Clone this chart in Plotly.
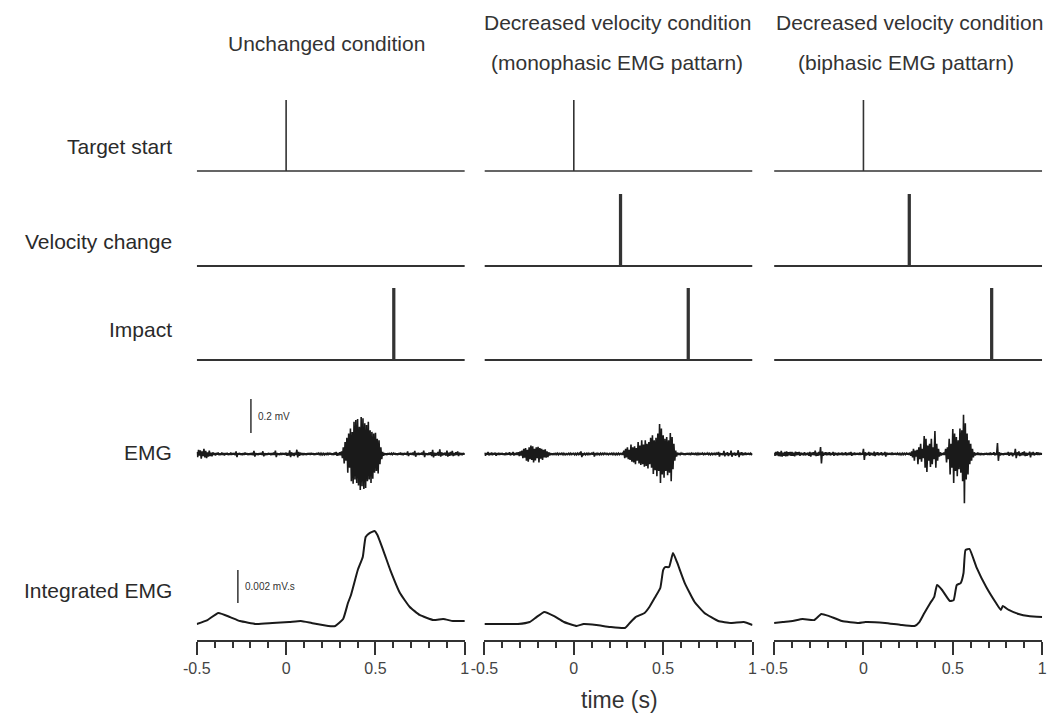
import numpy as np
import plotly.graph_objects as go

# ---------------- data ----------------
title_lines = [["Unchanged condition"],
               ["Decreased velocity condition", "(monophasic EMG pattarn)"],
               ["Decreased velocity condition", "(biphasic EMG pattarn)"]]
row_labels = ["Target start", "Velocity change", "Impact", "EMG", "Integrated EMG"]

# event times (s) per column; None = no event
target_start = [0.0, 0.0, 0.0]
velocity_change = [None, 0.258, 0.253]
impact = [0.599, 0.637, 0.714]
pulse_width = [0.0, 0.007, 0.007]   # per event row (s)

# raw EMG (µV), sampled every 5 ms from -0.5 s to 1.0 s
emg_unchanged = [
    12, -18, 25, -10, 22, -28, 15, -12, 30, -20, 18, -25, 10, -15, 20, -12, 8, -14, 10, -6,
    5, -8, 6, -4, 9, -7, 4, -6, 8, -5, 6, -9, 5, -4, 7, -6, 4, -5, 8, -6,
    5, -4, 6, -7, 15, -18, 5, -4, 6, -5, 4, -7, 6, -5, 8, -4, 5, -6, 4, -5,
    6, -5, 7, -8, 18, -15, 6, -5, 4, -6, 5, -4, 7, -5, 16, -14, 5, -6, 4, -5,
    6, -4, 5, -7, 6, -5, 8, -6, 20, -18, 6, -5, 4, -6, 7, -5, 6, -4, 5, -6,
    8, -10, 6, -9, 22, -18, 10, -8, 6, -12, 8, -6, 25, -20, 12, -10, 8, -6, 5, -7,
    6, -5, 4, -6, 5, -4, 6, -5, 7, -4, 5, -6, 4, -5, 6, -4, 5, -3, 4, -5,
    4, -5, 3, -4, 5, -6, 4, -3, 5, -4, 6, -5, 4, -6, 8, -5, 12, -10, 6, -8,
    10, -8, 15, -25, 40, -55, 70, -40, 95, -110, 120, -80, 150, -160, 130, -175, 190, -150, 200, -170,
    205, -185, 160, -212, 218, -190, 210, -205, 180, -200, 170, -160, 190, -150, 140, -170, 130, -145, 120, -110,
    125, -100, 90, -115, 80, -60, 40, -30, 12, -10, 6, -5, 4, -6, 5, -4, 6, -5, 4, -3,
    5, -4, 6, -5, 4, -6, 5, -4, 8, -6, 5, -7, 6, -4, 5, -6, 15, -12, 5, -4,
    6, -5, 8, -7, 18, -16, 6, -5, 7, -6, 5, -4, 8, -6, 20, -18, 6, -5, 4, -6,
    8, -6, 10, -12, 25, -20, 8, -10, 6, -8, 12, -10, 28, -15, 10, -8, 6, -5, 8, -10,
    20, -15, 8, -10, 12, -8, 18, -12, 6, -8, 10, -6, 15, -12, 8, -6, 5, -7, 6, -4,
    5]
emg_mono = [
    8, -10, 6, -5, 12, -8, 5, -6, 9, -7, 5, -4, 8, -10, 6, -5, 7, -6, 5, -4,
    6, -5, 4, -7, 8, -6, 5, -4, 10, -8, 6, -5, 12, -9, 6, -5, 8, -6, 10, -12,
    15, -10, 20, -25, 30, -22, 35, -40, 25, -45, 40, -30, 50, -35, 45, -50, 30, -38, 40, -25,
    42, -50, 35, -28, 30, -35, 25, -20, 28, -22, 15, -18, 10, -8, 6, -5, 4, -6, 5, -3,
    4, -3, 5, -4, 3, -2, 4, -3, 5, -4, 3, -4, 2, -3, 4, -3, 5, -4, 3, -2,
    4, -5, 3, -4, 5, -3, 4, -5, 15, -18, 5, -4, 3, -5, 4, -3, 5, -4, 3, -2,
    4, -3, 12, -15, 4, -3, 5, -4, 3, -4, 5, -3, 4, -3, 5, -2, 4, -3, 3, -4,
    3, -2, 4, -3, 5, -4, 3, -5, 4, -3, 5, -4, 3, -2, 4, -5, 20, -25, 30, -20,
    40, -30, 25, -35, 55, -45, 40, -50, 45, -60, 35, -40, 70, -55, 50, -65, 80, -60, 55, -75,
    80, -70, 60, -85, 70, -60, 95, -80, 110, -118, 80, -95, 95, -130, 120, -100, 176, -170, 150, -120,
    110, -140, 90, -100, 100, -125, 80, -110, 124, -160, 100, -90, 60, -40, 20, -15, 8, -6, 5, -4,
    5, -4, 6, -5, 4, -6, 5, -4, 6, -5, 4, -3, 5, -4, 6, -5, 4, -3, 5, -4,
    4, -5, 6, -4, 5, -3, 4, -5, 6, -4, 5, -4, 3, -5, 4, -3, 6, -5, 4, -3,
    5, -4, 12, -15, 6, -5, 4, -6, 18, -14, 6, -5, 10, -12, 5, -6, 20, -16, 6, -5,
    8, -10, 6, -5, 22, -18, 8, -6, 10, -8, 6, -5, 8, -6, 5, -4, 6, -5, 4, -3,
    3]
emg_bi = [
    8, -10, 12, -8, 15, -12, 10, -14, 18, -15, 8, -10, 12, -14, 16, -12, 10, -8, 12, -10,
    12, -10, 8, -14, 14, -8, 10, -6, 12, -10, 8, -6, 5, -8, 10, -8, 6, -5, 8, -10,
    12, -15, 8, -6, 10, -8, 20, -12, 8, -10, 12, -8, 41, -55, 15, -10, 8, -6, 10, -8,
    8, -6, 10, -8, 6, -5, 12, -10, 8, -6, 5, -9, 8, -6, 6, -5, 8, -7, 5, -6,
    10, -8, 6, -5, 8, -6, 12, -10, 6, -5, 8, -6, 5, -4, 6, -5, 8, -6, 5, -4,
    30, -35, 10, -8, 6, -5, 12, -10, 8, -6, 5, -9, 14, -12, 8, -6, 10, -8, 6, -5,
    10, -8, 6, -5, 12, -15, 8, -6, 5, -4, 6, -5, 8, -6, 5, -4, 6, -5, 4, -3,
    4, -5, 3, -4, 5, -3, 4, -3, 5, -4, 6, -5, 8, -10, 15, -20, 30, -40, 20, -15,
    25, -60, 40, -30, 60, -45, 30, -25, 106, -80, 90, -106, 50, -40, 60, -76, 90, -60, 40, -30,
    135, -80, 60, -40, 30, -15, 10, -8, 6, -5, 8, -6, 30, -50, 40, -30, 90, -120, 60, -80,
    147, -170, 120, -100, 100, -130, 80, -90, 150, -110, 140, -160, 230, -290, 180, -150, 120, -120, 80, -60,
    60, -40, 30, -20, 10, -8, 6, -5, 8, -6, 5, -7, 6, -5, 4, -6, 5, -4, 6, -5,
    6, -5, 8, -6, 5, -4, 10, -8, 6, -5, 65, -40, 10, -8, 6, -5, 4, -6, 5, -4,
    6, -5, 12, -10, 8, -6, 8, -14, 6, -5, 30, -25, 10, -8, 15, -12, 6, -8, 10, -8,
    15, -12, 8, -10, 6, -5, 14, -20, 8, -6, 12, -8, 6, -5, 10, -6, 8, -5, 6, -4,
    5]
emg_series = [emg_unchanged, emg_mono, emg_bi]

# integrated EMG (x 0.001 mV.s)
iemg1_t = [-0.5, -0.44, -0.379, -0.313, -0.258, -0.165, -0.077, 0.017, 0.082, 0.143,
           0.236, 0.275, 0.319, 0.346, 0.363, 0.401, 0.429, 0.445, 0.467, 0.495,
           0.511, 0.549, 0.583, 0.637, 0.692, 0.747, 0.824, 0.879, 0.934, 1.0]
iemg1_v = [0.97, 1.21, 1.64, 1.39, 1.15, 0.97, 1.03, 1.09, 1.15, 1.03,
           0.85, 0.85, 1.27, 2.24, 2.73, 4.24, 5.03, 6.24, 6.48, 6.61,
           6.36, 5.27, 4.24, 2.85, 2.0, 1.52, 1.21, 1.27, 1.15, 1.15]
iemg2_t = [-0.5, -0.401, -0.313, -0.247, -0.209, -0.165, -0.110, -0.055, 0.016, 0.055,
           0.126, 0.203, 0.286, 0.313, 0.346, 0.396, 0.423, 0.456, 0.484, 0.5,
           0.511, 0.533, 0.555, 0.577, 0.621, 0.676, 0.731, 0.808, 0.879, 0.951, 1.0]
iemg2_v = [0.97, 0.97, 0.97, 1.09, 1.39, 1.70, 1.45, 1.09, 0.85, 0.97,
           0.91, 0.79, 0.73, 1.03, 1.39, 1.64, 2.0, 2.61, 3.15, 4.24,
           4.42, 4.42, 5.27, 4.73, 3.45, 2.30, 1.64, 1.15, 1.03, 1.09, 0.91]
iemg3_t = [-0.5, -0.451, -0.396, -0.341, -0.275, -0.236, -0.192, -0.121, -0.027, 0.011,
           0.121, 0.209, 0.286, 0.313, 0.341, 0.374, 0.396, 0.412, 0.440, 0.484,
           0.505, 0.522, 0.544, 0.560, 0.571, 0.593, 0.632, 0.687, 0.742, 0.769,
           0.780, 0.813, 0.868, 0.923, 1.0]
iemg3_v = [1.03, 1.09, 1.15, 1.27, 1.21, 1.58, 1.45, 1.15, 1.03, 1.09,
           1.03, 0.91, 0.85, 1.09, 1.64, 2.24, 2.61, 3.33, 3.03, 2.36,
           2.42, 3.33, 3.45, 4.06, 5.45, 5.52, 4.42, 3.21, 2.24, 1.82,
           2.06, 1.82, 1.58, 1.45, 1.39]
iemg_series = [(iemg1_t, iemg1_v), (iemg2_t, iemg2_v), (iemg3_t, iemg3_v)]

tick_vals = [-0.5, 0, 0.5, 1]
tick_text = ["-0.5", "0", "0.5", "1"]
emg_scale_uv = 200        # 0.2 mV
iemg_scale = 2            # 0.002 mV.s

# ---------------- layout helpers ----------------
OFF = 8                     # default page body margin
W, H = 1063 - 2 * OFF, 722 - 2 * OFF
FONT = "Liberation Sans, Arial, sans-serif"
col_px = [(186, 459), (479, 752), (774, 1047)]
pulse_base = [171, 266, 360]


def px_x(p):
    return (p - OFF) / W


def px_y(p):
    return 1 - (p - OFF) / H


def xdom(c):
    return [px_x(col_px[c][0]), px_x(col_px[c][1])]


def ydom(top, bot):
    return [px_y(bot), px_y(top)]


fig = go.Figure()
layout = dict(width=W, height=H, margin=dict(l=0, r=0, t=0, b=0),
              paper_bgcolor="white", plot_bgcolor="white", showlegend=False)


def ax_id(r, c):
    return r * 3 + c + 1


def ref(k):
    return ("x" if k == 1 else f"x{k}"), ("y" if k == 1 else f"y{k}")


events = [target_start, velocity_change, impact]
emg_time = np.round(np.arange(301) * 0.005 - 0.5, 4)

for c in range(3):
    # pulse rows
    for r in range(3):
        k = ax_id(r, c)
        xr, yr = ref(k)
        base = pulse_base[r]
        layout[f"xaxis{k}"] = dict(domain=xdom(c), range=[-0.5, 1.0], visible=False, anchor=yr)
        layout[f"yaxis{k}"] = dict(domain=ydom(base - 80, base + 8),
                                   range=[-8 / 71, 80 / 71], visible=False, anchor=xr)
        t = events[r][c]
        if t is None:
            xs, ys = [-0.5, 1.0], [0, 0]
        else:
            w = pulse_width[r]
            xs = [-0.5, t, t, t + w, t + w, 1.0]
            ys = [0, 0, 1, 1, 0, 0]
        fig.add_trace(go.Scatter(x=xs, y=ys, mode="lines", xaxis=xr, yaxis=yr,
                                 line=dict(color="#333333", width=2 if r else 1.6)))
    # EMG row
    k = ax_id(3, c)
    xr, yr = ref(k)
    layout[f"xaxis{k}"] = dict(domain=xdom(c), range=[-0.5, 1.0], visible=False, anchor=yr)
    layout[f"yaxis{k}"] = dict(domain=ydom(396, 512), range=[-341, 341], visible=False, anchor=xr)
    fig.add_trace(go.Scatter(x=emg_time, y=emg_series[c], mode="lines", xaxis=xr, yaxis=yr,
                             line=dict(color="#1a1a1a", width=1.6)))
    if c == 0:
        y0 = (454 - 433) / 0.17
        fig.add_trace(go.Scatter(x=[-0.197, -0.197], y=[y0, y0 + emg_scale_uv], mode="lines",
                                 xaxis=xr, yaxis=yr, line=dict(color="#333333", width=1.5)))
    # integrated EMG row
    k = ax_id(4, c)
    xr, yr = ref(k)
    layout[f"xaxis{k}"] = dict(
        domain=xdom(c), range=[-0.5, 1.0], anchor=yr,
        showline=True, linecolor="#333333", linewidth=2, mirror=False,
        ticks="outside", ticklen=13, tickwidth=2, tickcolor="#333333",
        tickmode="array", tickvals=tick_vals, ticktext=tick_text,
        tickfont=dict(family=FONT, size=16, color="#444444"),
        minor=dict(tickmode="linear", tick0=-0.5, dtick=0.1, ticks="outside",
                   ticklen=6, tickwidth=2, tickcolor="#333333", showgrid=False),
        showgrid=False, zeroline=False, fixedrange=True)
    layout[f"yaxis{k}"] = dict(domain=ydom(515, 640), range=[0, 125 / 16.5], visible=False, anchor=xr)
    tt, vv = iemg_series[c]
    fig.add_trace(go.Scatter(x=tt, y=vv, mode="lines", xaxis=xr, yaxis=yr,
                             line=dict(color="#1a1a1a", width=2, shape="spline", smoothing=0.4)))
    if c == 0:
        y0 = (640 - 603) / 16.5
        fig.add_trace(go.Scatter(x=[-0.27, -0.27], y=[y0, y0 + iemg_scale], mode="lines",
                                 xaxis=xr, yaxis=yr, line=dict(color="#333333", width=1.5)))

ann = []
# column titles
title_pos = [[(318, 43)], [(615, 23), (614, 62)], [(912, 23), (908, 62)]]
for c in range(3):
    for line, (tx, ty) in zip(title_lines[c], title_pos[c]):
        ann.append(dict(text=line, x=px_x(tx), y=px_y(ty),
                        xref="paper", yref="paper", showarrow=False, xanchor="center",
                        yanchor="middle", font=dict(family=FONT, size=21, color="#333333")))
# row labels
row_y = [147, 242, 330, 452, 590]
for r in range(5):
    ann.append(dict(text=row_labels[r], x=px_x(163), y=px_y(row_y[r]), xref="paper", yref="paper",
                    showarrow=False, xanchor="right", yanchor="middle",
                    font=dict(family=FONT, size=21, color="#2a2a2a")))
# scale bar labels
ann.append(dict(text="0.2 mV", x=px_x(246), y=px_y(417), xref="paper", yref="paper",
                showarrow=False, xanchor="left", yanchor="middle",
                font=dict(family=FONT, size=10, color="#333333")))
ann.append(dict(text="0.002 mV.s", x=px_x(233), y=px_y(586), xref="paper", yref="paper",
                showarrow=False, xanchor="left", yanchor="middle",
                font=dict(family=FONT, size=10, color="#333333")))
# x title (anchored to the bottom edge so it is not clipped)
ann.append(dict(text="time (s)", x=px_x(617), y=0, xref="paper", yref="paper",
                showarrow=False, xanchor="center", yanchor="bottom", borderpad=0,
                font=dict(family=FONT, size=23, color="#333333")))
layout["annotations"] = ann

fig.update_layout(**layout)
fig.write_html("out.html")
